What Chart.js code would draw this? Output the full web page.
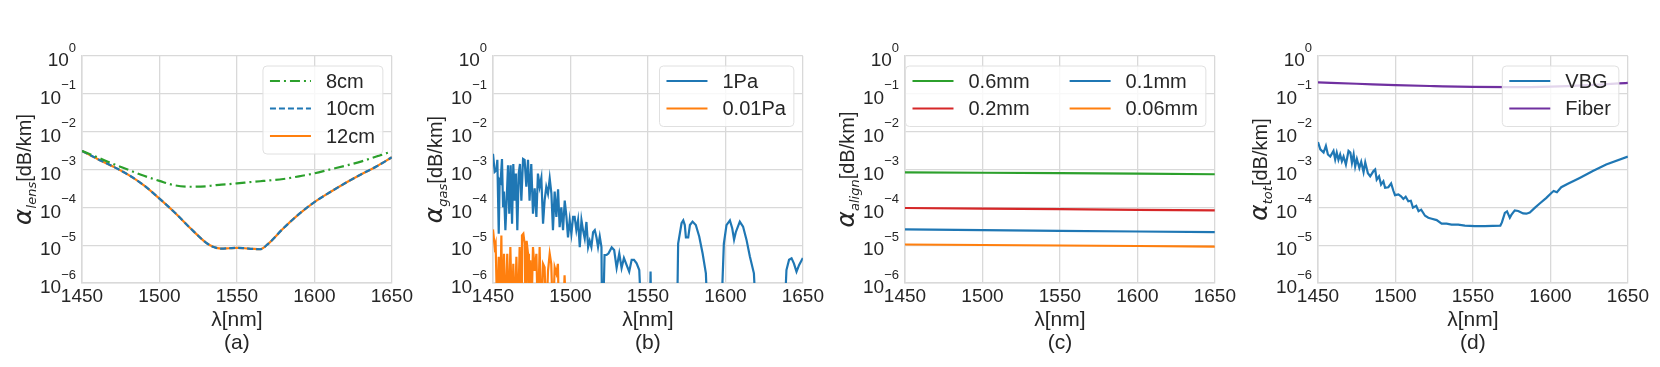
<!DOCTYPE html>
<html>
<head>
<meta charset="utf-8">
<script src="https://cdn.jsdelivr.net/npm/chart.js@4.4.0/dist/chart.umd.min.js"></script>
<style>
  body { margin: 0; background: #fff; }
  .panel { position: absolute; top: 0; width: 415px; height: 367px; }
</style>
</head>
<body>
<div class="panel" style="left:0px"><canvas id="chartA" width="415" height="367"></canvas></div>
<div class="panel" style="left:411px"><canvas id="chartB" width="415" height="367"></canvas></div>
<div class="panel" style="left:823px"><canvas id="chartC" width="415" height="367"></canvas></div>
<div class="panel" style="left:1236px"><canvas id="chartD" width="415" height="367"></canvas></div>
<script>
// axes
const xTicks = [1450, 1500, 1550, 1600, 1650];
const yTicks = [1e-6, 1e-5, 1e-4, 1e-3, 1e-2, 1e-1, 1];

// (a) lens loss
const lensLambda = [1450, 1460, 1470, 1480, 1490, 1500, 1510, 1520, 1530, 1535, 1540, 1545, 1550, 1555, 1560, 1565, 1570, 1580, 1590, 1600, 1610, 1620, 1630, 1640, 1650];
const lens8cm  = [3.1e-3, 2.1e-3, 1.41e-3, 9.8e-4, 6.8e-4, 5.0e-4, 3.8e-4, 3.5e-4, 3.6e-4, 3.8e-4, 4.0e-4, 4.1e-4, 4.3e-4, 4.5e-4, 4.7e-4, 4.9e-4, 5.1e-4, 5.6e-4, 6.6e-4, 7.9e-4, 1.0e-3, 1.26e-3, 1.62e-3, 2.2e-3, 3.0e-3];
const lens10cm = [3.1e-3, 1.9e-3, 1.2e-3, 7.2e-4, 3.8e-4, 1.7e-4, 7.2e-5, 2.8e-5, 1.17e-5, 8.9e-6, 8.1e-6, 8.3e-6, 8.5e-6, 8.3e-6, 8.0e-6, 7.8e-6, 1.07e-5, 2.8e-5, 6.6e-5, 1.38e-4, 2.5e-4, 4.4e-4, 7.4e-4, 1.2e-3, 2.1e-3];
const lens12cm = [3.1e-3, 1.9e-3, 1.2e-3, 7.2e-4, 3.8e-4, 1.7e-4, 7.2e-5, 2.8e-5, 1.17e-5, 8.9e-6, 8.1e-6, 8.3e-6, 8.5e-6, 8.3e-6, 8.0e-6, 7.8e-6, 1.07e-5, 2.8e-5, 6.6e-5, 1.38e-4, 2.5e-4, 4.4e-4, 7.4e-4, 1.2e-3, 2.1e-3];

// (b) gas absorption (values under 1e-6 fall off the axis)
const gas1PaLambda = [1450.0, 1451.1, 1452.2, 1452.8, 1453.7, 1454.3, 1454.9, 1455.8, 1456.5, 1457.1, 1458.0, 1458.8, 1459.7, 1460.5, 1461.4, 1462.3, 1463.1, 1464.0, 1464.8, 1465.7, 1466.6, 1467.4, 1468.3, 1469.4, 1470.4, 1471.5, 1472.6, 1473.6, 1474.7, 1475.8, 1476.9, 1478.0, 1479.0, 1480.1, 1481.2, 1482.3, 1483.3, 1484.4, 1485.5, 1486.6, 1487.7, 1488.7, 1489.8, 1490.9, 1492.0, 1493.0, 1494.1, 1495.2, 1496.3, 1497.4, 1498.4, 1499.5, 1500.6, 1501.7, 1502.7, 1503.8, 1504.9, 1506.0, 1507.1, 1508.1, 1509.2, 1510.3, 1511.4, 1512.4, 1513.5, 1514.6, 1515.7, 1516.8, 1517.8, 1518.9, 1520.0, 1520.4, 1521.0, 1522.0, 1523.3, 1524.5, 1526.6, 1528.2, 1529.8, 1531.5, 1533.0, 1534.5, 1536.2, 1537.9, 1539.5, 1541.0, 1542.7, 1544.4, 1545.9, 1551.2, 1551.7, 1552.2, 1568.8, 1569.5, 1571.7, 1572.8, 1573.8, 1574.5, 1576.0, 1577.1, 1578.8, 1580.9, 1583.1, 1585.3, 1587.4, 1588.6, 1597.2, 1599.0, 1600.7, 1602.9, 1604.4, 1605.6, 1606.7, 1609.3, 1611.4, 1613.6, 1615.8, 1618.4, 1619.9, 1638.0, 1639.4, 1641.1, 1642.7, 1644.2, 1645.9, 1647.6, 1650.0];
const gas1Pa = [2.6e-3, 8.7e-4, 9.6e-4, 1.8e-3, 2.0e-5, 5.2e-4, 4.7e-4, 1.9e-3, 1.0e-4, 2.6e-4, 2.5e-5, 1.5e-4, 1.3e-3, 6.8e-5, 1.3e-3, 3.7e-5, 1.4e-3, 1.5e-4, 7.8e-4, 2.5e-5, 7.8e-4, 1.4e-3, 1.5e-4, 1.9e-3, 1.8e-3, 3.5e-4, 1.8e-3, 1.5e-4, 1.4e-3, 6.8e-5, 3.2e-4, 5.6e-5, 7.8e-4, 3.5e-4, 6.0e-4, 3.7e-5, 1.5e-4, 3.5e-4, 2.3e-4, 5.8e-4, 2.3e-4, 2.5e-5, 2.6e-4, 5.6e-5, 3.0e-4, 3.0e-5, 1.0e-4, 2.5e-5, 1.5e-4, 5.6e-5, 1.6e-5, 4.6e-5, 2.0e-5, 5.6e-5, 5.6e-5, 2.5e-5, 4.6e-5, 8.9e-6, 4.6e-5, 2.5e-5, 1.5e-5, 4.1e-5, 8.9e-6, 1.3e-5, 8.9e-6, 2.2e-5, 2.5e-5, 1.6e-5, 8.9e-6, 1.7e-5, 8.9e-6, 1e-7, 1e-7, 5.5e-6, 5.5e-6, 6.0e-6, 8.7e-6, 7.4e-6, 2.5e-6, 6.0e-6, 2.5e-6, 4.6e-6, 3.0e-6, 2.0e-6, 4.1e-6, 4.1e-6, 3.3e-6, 2.2e-6, 1e-7, 1e-7, 2.0e-6, 1e-7, 1e-7, 1.1e-5, 3.8e-5, 4.5e-5, 3.4e-5, 1.6e-5, 1.6e-5, 3.4e-5, 4.2e-5, 3.4e-5, 1.7e-5, 6.0e-6, 1.8e-6, 1e-7, 1e-7, 1.1e-5, 3.4e-5, 4.5e-5, 2.8e-5, 1.4e-5, 2.2e-5, 4.2e-5, 3.1e-5, 1.4e-5, 5.0e-6, 1.8e-6, 1e-7, 1e-7, 2.2e-6, 4.1e-6, 4.5e-6, 3.3e-6, 2.0e-6, 3.0e-6, 4.6e-6];
const gas001PaLambda = [1450.0, 1451.1, 1451.7, 1452.8, 1453.7, 1454.5, 1455.4, 1456.0, 1457.1, 1458.0, 1459.2, 1460.3, 1461.2, 1462.3, 1463.1, 1464.0, 1465.1, 1466.1, 1467.2, 1468.3, 1468.7, 1469.6, 1470.4, 1471.1, 1471.7, 1472.6, 1473.2, 1474.1, 1474.7, 1475.8, 1476.9, 1478.0, 1479.0, 1480.1, 1481.2, 1482.3, 1483.3, 1484.4, 1485.5, 1486.6, 1487.6, 1488.7, 1489.8, 1490.9, 1491.9, 1492.6, 1495.2, 1496.2, 1497.3];
const gas001Pa = [2.6e-5, 8.9e-6, 1.1e-5, 1e-7, 4.9e-6, 1e-7, 1.8e-5, 1e-7, 5.9e-6, 1e-7, 5.9e-6, 1e-7, 8.9e-6, 1e-7, 3.2e-6, 1e-7, 4.9e-6, 1e-7, 8.9e-6, 1e-7, 1.8e-5, 2.0e-5, 1.1e-5, 1e-7, 1.3e-5, 5.9e-6, 1e-7, 4.0e-6, 1e-7, 8.9e-6, 2.1e-6, 5.9e-6, 1e-7, 8.9e-6, 1e-7, 3.2e-6, 2.6e-6, 1e-7, 2.1e-6, 5.9e-6, 3.2e-6, 1e-7, 2.6e-6, 1.8e-6, 3.2e-6, 1e-7, 1e-7, 1.6e-6, 1e-7];

// (c) alignment loss
const alignLambda = [1450, 1500, 1550, 1600, 1650];
const align06mm  = [8.4e-4, 8.2e-4, 8.0e-4, 7.8e-4, 7.5e-4];
const align02mm  = [9.6e-5, 9.3e-5, 9.0e-5, 8.6e-5, 8.3e-5];
const align01mm  = [2.6e-5, 2.5e-5, 2.4e-5, 2.3e-5, 2.2e-5];
const align006mm = [1.04e-5, 1.01e-5, 9.8e-6, 9.5e-6, 9.2e-6];

// (d) total loss
const vbgLambda = [1450.0, 1451.5, 1453.6, 1455.1, 1456.4, 1457.9, 1460.0, 1461.1, 1462.1, 1463.2, 1464.3, 1465.4, 1466.5, 1468.0, 1469.7, 1470.9, 1471.9, 1473.0, 1474.0, 1475.1, 1476.7, 1477.9, 1479.4, 1480.5, 1482.2, 1483.7, 1485.8, 1486.9, 1487.9, 1489.4, 1490.7, 1492.2, 1493.3, 1495.4, 1497.2, 1498.7, 1499.7, 1501.9, 1503.6, 1505.1, 1506.6, 1508.3, 1509.9, 1511.3, 1513.4, 1514.9, 1516.6, 1519.1, 1521.2, 1523.4, 1526.6, 1529.8, 1533.0, 1536.2, 1540.5, 1544.8, 1551.2, 1557.6, 1567.7, 1568.7, 1570.6, 1572.0, 1573.8, 1574.8, 1577.0, 1579.2, 1582.4, 1584.5, 1586.7, 1589.9, 1593.1, 1597.4, 1600.6, 1602.1, 1604.2, 1607.0, 1611.3, 1618.9, 1627.4, 1636.0, 1650.0];
const vbg = [5.3e-3, 3.4e-3, 2.8e-3, 4.2e-3, 2.5e-3, 2.2e-3, 3.1e-3, 1.85e-3, 2.8e-3, 1.8e-3, 2.5e-3, 1.66e-3, 2.2e-3, 1.35e-3, 3.1e-3, 2.8e-3, 1.5e-3, 2.5e-3, 1.2e-3, 1.9e-3, 1.1e-3, 1.6e-3, 8.5e-4, 1.55e-3, 8.0e-4, 6.6e-4, 9.1e-4, 1.0e-3, 5.4e-4, 6.6e-4, 4.0e-4, 4.9e-4, 3.3e-4, 3.4e-4, 4.3e-4, 2.7e-4, 2.1e-4, 2.2e-4, 1.95e-4, 1.66e-4, 1.9e-4, 1.45e-4, 1.5e-4, 9.8e-5, 1.1e-4, 7.9e-5, 8.7e-5, 6.0e-5, 5.3e-5, 5.0e-5, 4.6e-5, 3.7e-5, 3.7e-5, 3.5e-5, 3.5e-5, 3.3e-5, 3.2e-5, 3.2e-5, 3.3e-5, 4.0e-5, 7.1e-5, 7.8e-5, 5.3e-5, 6.3e-5, 8.3e-5, 8.0e-5, 6.9e-5, 6.8e-5, 7.3e-5, 9.7e-5, 1.26e-4, 1.78e-4, 2.4e-4, 2.7e-4, 2.5e-4, 3.4e-4, 4.2e-4, 6.0e-4, 9.1e-4, 1.35e-3, 2.2e-3];
const fiberLambda = [1450, 1475, 1500, 1525, 1550, 1575, 1600, 1625, 1650];
const fiber = [0.20, 0.185, 0.17, 0.16, 0.152, 0.15, 0.155, 0.17, 0.195];

const textColor = '#262626';
const gridColor = '#d9d9d9';

function pts(xs, ys) {
    return xs.map((x, i) => ({ x: x, y: ys[i] }));
}

function series(label, xs, ys, color, extra) {
    return Object.assign({
        label: label,
        data: pts(xs, ys),
        borderColor: color,
        backgroundColor: color,
        borderWidth: 2.2,
        pointRadius: 0,
        fill: false,
        tension: 0
    }, extra || {});
}

// tick labels 10^n, rotated y title and the boxed legend
const decor = {
    id: 'decor',
    afterDraw(chart, args, opts) {
        const ctx = chart.ctx;
        const area = chart.chartArea;
        const yScale = chart.scales.y;
        ctx.save();
        ctx.fillStyle = textColor;
        ctx.textAlign = 'right';
        ctx.textBaseline = 'middle';
        yScale.ticks.forEach(t => {
            const py = yScale.getPixelForValue(t.value);
            const exp = Math.round(Math.log10(t.value));
            const expText = exp < 0 ? '\u2212' + (-exp) : String(exp);
            const right = area.left - 6;
            ctx.font = '13px "Liberation Sans"';
            const ew = ctx.measureText(expText).width;
            ctx.fillText(expText, right, py - 8);
            ctx.font = '19px "Liberation Sans"';
            ctx.fillText('10', right - ew, py + 5);
        });

        // y title
        ctx.save();
        ctx.translate(area.left - 58, (area.top + area.bottom) / 2);
        ctx.rotate(-Math.PI / 2);
        ctx.textAlign = 'left';
        ctx.textBaseline = 'alphabetic';
        const parts = [
            { text: '\u03b1', font: 'italic 25px "DejaVu Sans"', dy: 0 },
            { text: opts.sub, font: 'italic 13px "DejaVu Sans"', dy: 5 },
            { text: '[dB/km]', font: '20px "Liberation Sans"', dy: 0 }
        ];
        let total = 0;
        parts.forEach(p => { ctx.font = p.font; p.w = ctx.measureText(p.text).width; total += p.w; });
        let px = -total / 2;
        parts.forEach(p => {
            ctx.font = p.font;
            ctx.fillText(p.text, px, 7 + p.dy);
            px += p.w;
        });
        ctx.restore();

        // legend
        const items = chart.data.datasets;
        const cols = opts.columns || 1;
        const rows = Math.ceil(items.length / cols);
        ctx.font = '20px "Liberation Sans"';
        const colW = [];
        for (let c = 0; c < cols; c++) {
            let w = 0;
            items.forEach((ds, i) => {
                if (Math.floor(i / rows) === c) w = Math.max(w, ctx.measureText(ds.label).width);
            });
            colW.push(41 + 15 + w);
        }
        const colGap = 40;
        const boxW = 7 + colW.reduce((a, b) => a + b, 0) + (cols - 1) * colGap + 8;
        const boxH = 15 + (rows - 1) * 27.5 + 18;
        const bx = area.right - 9 - boxW;
        const by = area.top + 10;
        ctx.beginPath();
        ctx.roundRect(bx, by, boxW, boxH, 4);
        ctx.fillStyle = 'rgba(255,255,255,0.8)';
        ctx.fill();
        ctx.strokeStyle = '#e0e0e0';
        ctx.lineWidth = 1;
        ctx.stroke();
        items.forEach((ds, i) => {
            const c = Math.floor(i / rows);
            const r = i % rows;
            let lx = bx + 7;
            for (let k = 0; k < c; k++) lx += colW[k] + colGap;
            const ly = by + 15 + r * 27.5;
            ctx.beginPath();
            ctx.setLineDash(ds.borderDash || []);
            ctx.strokeStyle = ds.borderColor;
            ctx.lineWidth = ds.borderWidth;
            ctx.moveTo(lx, ly);
            ctx.lineTo(lx + 41, ly);
            ctx.stroke();
            ctx.setLineDash([]);
            ctx.fillStyle = textColor;
            ctx.textAlign = 'left';
            ctx.textBaseline = 'middle';
            ctx.fillText(ds.label, lx + 56, ly + 1);
        });
        ctx.restore();
    }
};

function makeChart(id, datasets, sub, caption, columns) {
    return new Chart(document.getElementById(id), {
        type: 'line',
        data: { datasets: datasets },
        options: {
            responsive: false,
            animation: false,
            layout: { padding: { top: 56, right: 23, left: 0, bottom: 0 } },
            plugins: {
                legend: { display: false },
                tooltip: { enabled: false },
                decor: { sub: sub, columns: columns }
            },
            scales: {
                x: {
                    type: 'linear',
                    min: 1450,
                    max: 1650,
                    afterBuildTicks: s => { s.ticks = xTicks.map(v => ({ value: v })); },
                    afterFit: s => { s.height = 84; },
                    grid: { color: gridColor, lineWidth: 1.3, drawTicks: false },
                    border: { color: gridColor, width: 1.5 },
                    ticks: {
                        color: textColor,
                        font: { family: 'Liberation Sans', size: 19 },
                        padding: 2,
                        maxRotation: 0,
                        autoSkip: false,
                        callback: v => String(v)
                    },
                    title: {
                        display: true,
                        text: ['\u03bb[nm]', caption],
                        color: textColor,
                        font: { family: 'Liberation Sans', size: 21, lineHeight: 1.1 },
                        padding: { top: 0, bottom: 12 }
                    }
                },
                y: {
                    type: 'logarithmic',
                    min: 1e-6,
                    max: 1,
                    afterBuildTicks: s => { s.ticks = yTicks.map(v => ({ value: v })); },
                    afterFit: s => { s.width = 82; },
                    grid: { color: gridColor, lineWidth: 1.3, drawTicks: false },
                    border: { color: gridColor, width: 1.5 },
                    ticks: { display: false }
                }
            }
        },
        plugins: [decor]
    });
}

makeChart('chartA', [
    series('8cm', lensLambda, lens8cm, '#2ca02c', { borderDash: [10, 4, 2, 4], cubicInterpolationMode: 'monotone' }),
    series('10cm', lensLambda, lens10cm, '#1f77b4', { borderDash: [6, 3], cubicInterpolationMode: 'monotone' }),
    series('12cm', lensLambda, lens12cm, '#ff7f0e', { cubicInterpolationMode: 'monotone' })
], 'lens', '(a)', 1);

makeChart('chartB', [
    series('1Pa', gas1PaLambda, gas1Pa, '#1f77b4'),
    series('0.01Pa', gas001PaLambda, gas001Pa, '#ff7f0e')
], 'gas', '(b)', 1);

makeChart('chartC', [
    series('0.6mm', alignLambda, align06mm, '#2ca02c'),
    series('0.2mm', alignLambda, align02mm, '#d62728'),
    series('0.1mm', alignLambda, align01mm, '#1f77b4'),
    series('0.06mm', alignLambda, align006mm, '#ff7f0e')
], 'align', '(c)', 2);

makeChart('chartD', [
    series('VBG', vbgLambda, vbg, '#1f77b4'),
    series('Fiber', fiberLambda, fiber, '#7030a0', { cubicInterpolationMode: 'monotone' })
], 'tot', '(d)', 1);
</script>
</body>
</html>
